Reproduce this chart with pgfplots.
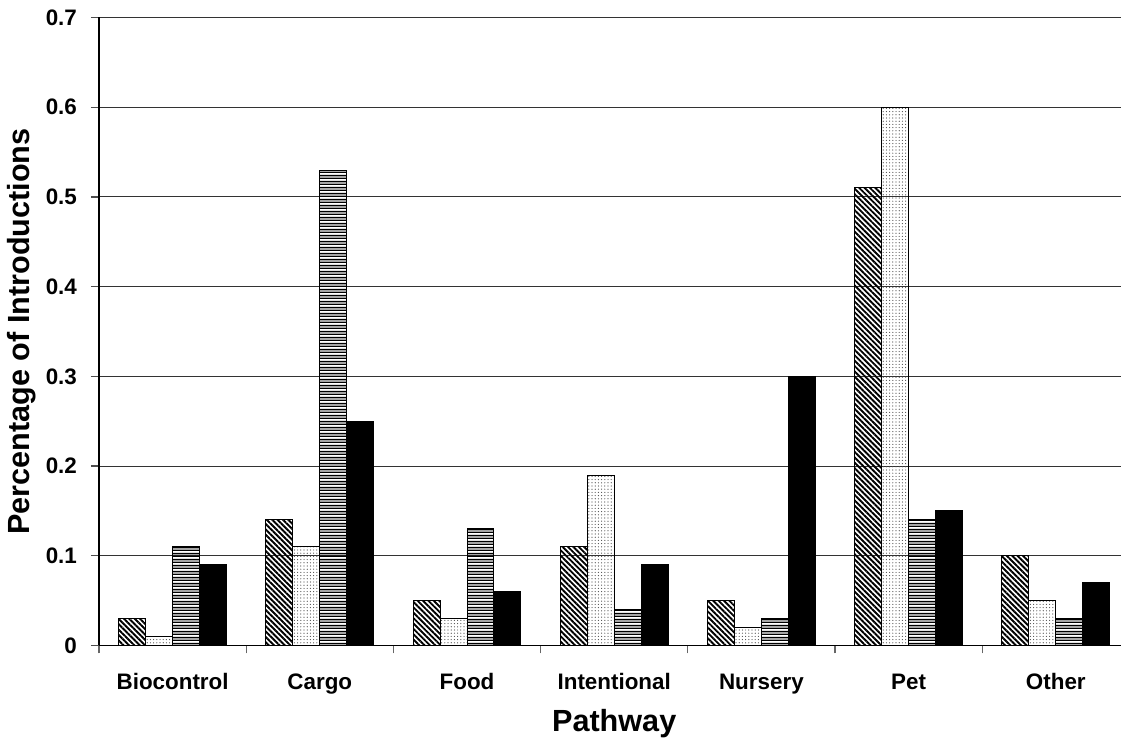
\documentclass[border=0pt]{standalone}
\usepackage{pgfplots}
\pgfplotsset{compat=1.18}
\usepackage{fontspec}
\setmainfont{Liberation Sans}
\usetikzlibrary{patterns, patterns.meta}

% dense horizontal stripes, wide tile to avoid seams
\pgfdeclarepatternformonly{denseh}{\pgfqpoint{0pt}{0pt}}{\pgfqpoint{28pt}{2.8pt}}{\pgfqpoint{28pt}{2.8pt}}{
  \pgfpathrectangle{\pgfqpoint{-1pt}{0pt}}{\pgfqpoint{30pt}{0.75pt}}
  \pgfpathrectangle{\pgfqpoint{-1pt}{1.4pt}}{\pgfqpoint{30pt}{0.75pt}}
  \pgfusepath{fill}
}

\begin{document}
\begin{tikzpicture}
\begin{axis}[
    scale only axis,
    width=515.2pt, height=314pt,
    ybar=0pt,
    bar width=0.183,
    xmin=-0.5, xmax=6.5,
    ymin=0, ymax=0.7,
    ytick={0,0.1,...,0.7},
    yticklabel style={/pgf/number format/fixed, /pgf/number format/precision=1},
    /pgf/number format/assume math mode=true,
    xtick={-0.5,0.5,...,6.5},
    x tick label as interval,
    xticklabels={Biocontrol,Cargo,Food,Intentional,Nursery,Pet,Other},
    axis x line*=bottom,
    axis y line*=left,
    axis line style={-, black, line width=0.6pt},
    xtick style={draw=black!60, line width=0.6pt},
    ytick style={draw=black!70, line width=0.6pt},
    tick align=outside,
    major tick length=4pt,
    ymajorgrids,
    grid style={black!80, line width=0.5pt},
    ticklabel style={font=\bfseries\fontsize{11.2pt}{12pt}\selectfont},
    xticklabel style={anchor=base, yshift=-18.25pt},
    yticklabel style={xshift=-3.5pt},
    xlabel={\bfseries Pathway},
    ylabel={\bfseries Percentage of Introductions},
    label style={font=\bfseries\fontsize{15.3pt}{17pt}\selectfont},
    xlabel style={at={(axis description cs:0.5,-0.1377)}, anchor=base},
    ylabel style={at={(axis description cs:-0.0747,0.5)}, anchor=center},
    every axis plot/.append style={draw=black, line width=0.5pt},
]
\addplot[pattern={Lines[angle=-45,distance=1.9pt,line width=0.95pt]}] coordinates {
    (0,0.03) (1,0.14) (2,0.05) (3,0.11) (4,0.05) (5,0.51) (6,0.10)};
\addplot[pattern={Dots[distance=1.6pt,radius=0.3pt]}, pattern color=black!70] coordinates {
    (0,0.01) (1,0.11) (2,0.03) (3,0.19) (4,0.02) (5,0.60) (6,0.05)};
\addplot[pattern=denseh] coordinates {
    (0,0.11) (1,0.53) (2,0.13) (3,0.04) (4,0.03) (5,0.14) (6,0.03)};
\addplot[fill=black] coordinates {
    (0,0.09) (1,0.25) (2,0.06) (3,0.09) (4,0.30) (5,0.15) (6,0.07)};
\end{axis}
\pgfresetboundingbox
\path ([xshift=-49.5pt,yshift=-48.25pt]current axis.south west) rectangle ([xshift=-4.2pt,yshift=8.75pt]current axis.north east);
\end{tikzpicture}
\end{document}
